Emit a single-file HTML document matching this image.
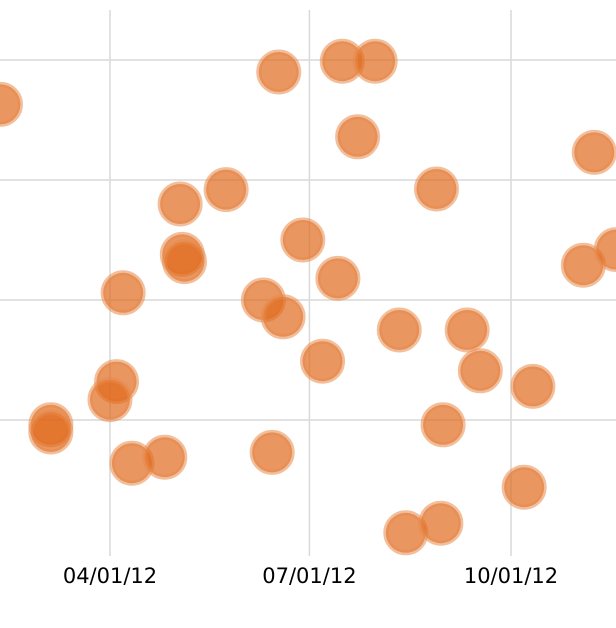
<!DOCTYPE html>
<html><head><meta charset="utf-8"><style>
html,body{margin:0;padding:0;background:#fff;}
svg{display:block;}
text{font-family:"DejaVu Sans","Liberation Sans",sans-serif;font-size:21px;fill:#000;}
</style></head><body>
<svg id="chart" width="616" height="628" xmlns="http://www.w3.org/2000/svg">
<g id="grid"></g>
<g id="xaxis"></g>
<g id="points"></g>
</svg>
<script>
const dates = ["2012-02-11","2012-03-05","2012-03-05","2012-04-07","2012-04-04","2012-04-01","2012-04-11","2012-04-26","2012-05-03","2012-05-04","2012-05-05","2012-05-24","2012-06-17","2012-06-10","2012-06-19","2012-06-14","2012-06-28","2012-07-14","2012-07-07","2012-07-16","2012-07-31","2012-07-23","2012-08-11","2012-08-14","2012-08-30","2012-08-28","2012-08-31","2012-09-11","2012-09-17","2012-10-07","2012-10-11","2012-11-08","2012-11-03","2012-11-18"];
const values = [36.3,9.6,9.0,20.6,13.2,11.7,6.4,6.9,28.0,23.8,23.2,29.2,39.0,20.0,18.6,7.3,25.0,21.8,14.9,39.9,39.9,33.6,17.5,0.6,1.4,29.25,9.6,17.5,14.1,4.4,12.8,32.3,22.9,24.2];
const xTicks = ["2012-04-01","2012-07-01","2012-10-01"];
const xTickLabels = ["04/01/12","07/01/12","10/01/12"];
const yTicks = [10,20,30,40];

const NS="http://www.w3.org/2000/svg";
const t0=Date.UTC(2012,3,1), t1=Date.UTC(2012,9,1);
function ms(s){const p=s.split("-");return Date.UTC(+p[0],+p[1]-1,+p[2]);}
function x(s){return 110+(ms(s)-t0)/(t1-t0)*401;}
function y(v){return 420-(v-10)*12;}
function mk(tag,attrs,parent){const e=document.createElementNS(NS,tag);for(const k in attrs)e.setAttribute(k,attrs[k]);parent.appendChild(e);return e;}
const grid=document.getElementById("grid"),xa=document.getElementById("xaxis"),pts=document.getElementById("points");
yTicks.forEach(v=>{
  const l=mk("line",{x1:0,x2:616,y1:y(v),y2:y(v),stroke:"#d9d9d9","stroke-width":1.5},grid);
  
  
});
xTicks.forEach((d,i)=>{
  const l=mk("line",{x1:x(d),x2:x(d),y1:10,y2:556,stroke:"#d9d9d9","stroke-width":1.5},grid);
  
  
  const t=mk("text",{x:x(d),y:583,"text-anchor":"middle"},xa);
  t.textContent=xTickLabels[i];
  
  
});
dates.forEach((d,i)=>{
  const c=mk("circle",{cx:x(d),cy:y(values[i]),r:20,fill:"#e0691c","fill-opacity":0.7,stroke:"#e88a4c","stroke-opacity":0.55,"stroke-width":5},pts);
  
  
});
</script>
</body></html>
